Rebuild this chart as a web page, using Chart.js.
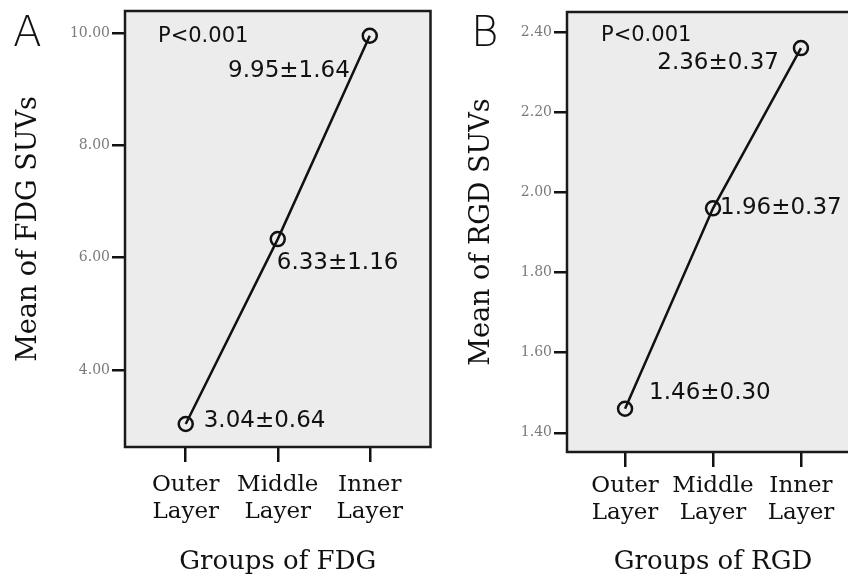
<!DOCTYPE html>
<html>
<head>
<meta charset="utf-8">
<script src="https://cdn.jsdelivr.net/npm/chart.js@4/dist/chart.umd.min.js"></script>
<style>
  html, body { margin: 0; padding: 0; background: #fff; overflow: hidden; }
  #wrap { position: relative; width: 848px; height: 582px; overflow: hidden; }
  .panel { position: absolute; top: 0; width: 440px; height: 582px; }
  .letter {
    position: absolute; font-family: 'DejaVu Sans', sans-serif; font-weight: 200;
    font-size: 42px; line-height: 42px; color: #111;
  }
</style>
</head>
<body>
<div id="wrap">
  <div class="panel" style="left:0"><canvas id="chartA" width="440" height="582"></canvas></div>
  <div class="panel" style="left:440px"><canvas id="chartB" width="440" height="582"></canvas></div>
  <div class="letter" style="left:13px;top:11px">A</div>
  <div class="letter" style="left:471px;top:11px">B</div>
</div>
<script>
const categories = [['Outer', 'Layer'], ['Middle', 'Layer'], ['Inner', 'Layer']];
const fdgMeans = [3.04, 6.33, 9.95];
const fdgSds = [0.64, 1.16, 1.64];
const rgdMeans = [1.46, 1.96, 2.36];
const rgdSds = [0.30, 0.37, 0.37];
const fdgTicks = [4, 6, 8, 10];
const rgdTicks = [1.4, 1.6, 1.8, 2.0, 2.2, 2.4];
const pText = 'P<0.001';

const serif = "'DejaVu Serif', serif";
const sans = "'DejaVu Sans', sans-serif";

const panelPlugin = {
  id: 'panel',
  beforeDraw: (chart) => {
    const { ctx, chartArea: a } = chart;
    ctx.save();
    ctx.fillStyle = '#ececec';
    ctx.fillRect(a.left, a.top, a.right - a.left, a.bottom - a.top);
    ctx.restore();
  },
  afterDraw: (chart, args, opts) => {
    const { ctx, chartArea: a } = chart;
    ctx.save();
    ctx.strokeStyle = '#1a1a1a';
    ctx.lineWidth = 2.5;
    ctx.strokeRect(a.left, a.top, a.right - a.left, a.bottom - a.top);

    ctx.fillStyle = '#111';
    ctx.textBaseline = 'alphabetic';
    ctx.font = `21px ${sans}`;
    ctx.textAlign = 'left';
    ctx.fillText(pText, a.left + opts.pPos[0], a.top + opts.pPos[1]);

    ctx.font = `23px ${sans}`;
    const meta = chart.getDatasetMeta(0);
    meta.data.forEach((pt, i) => {
      const [dx, dy, align] = opts.offsets[i];
      const text = `${opts.means[i].toFixed(2)}±${opts.sds[i].toFixed(2)}`;
      ctx.textAlign = align;
      ctx.fillText(text, pt.x + dx, pt.y + dy);
    });
    ctx.restore();
  },
};

const createChart = (id, cfg) => {
  return new Chart(document.getElementById(id), {
    type: 'line',
    data: {
      datasets: [{
        data: cfg.means.map((y, i) => ({ x: i, y })),
        borderColor: '#111',
        borderWidth: 2.5,
        pointRadius: 7,
        pointBorderWidth: 2.5,
        pointBackgroundColor: 'rgba(0,0,0,0)',
        pointBorderColor: '#111',
        tension: 0,
      }],
    },
    plugins: [panelPlugin],
    options: {
      responsive: false,
      animation: false,
      events: [],
      layout: { padding: { left: 0, top: cfg.top, right: cfg.right, bottom: 0 } },
      plugins: {
        legend: { display: false },
        tooltip: { enabled: false },
        panel: { offsets: cfg.offsets, pPos: cfg.pPos, means: cfg.means, sds: cfg.sds },
      },
      scales: {
        x: {
          type: 'linear',
          min: -0.66,
          max: 2.66,
          afterBuildTicks: (scale) => {
            scale.ticks = categories.map((c, i) => ({ value: i }));
          },
          afterFit: (scale) => { scale.height = cfg.xHeight; },
          ticks: {
            callback: (v) => categories[v],
            color: '#111',
            font: { family: serif, size: 23, lineHeight: 1.17 },
            padding: cfg.xTickPad,
            maxRotation: 0,
            autoSkip: false,
          },
          grid: { drawOnChartArea: false, color: '#111', lineWidth: 2.5, tickLength: 15 },
          border: { display: false },
          title: {
            display: true,
            text: cfg.xTitle,
            color: '#111',
            font: { family: serif, size: 26 },
            padding: { top: 0, bottom: 4 },
          },
        },
        y: {
          min: cfg.yMin,
          max: cfg.yMax,
          afterBuildTicks: (scale) => {
            scale.ticks = cfg.ticks.map((value) => ({ value }));
          },
          afterFit: (scale) => { scale.width = cfg.yWidth; },
          ticks: {
            callback: (v) => v.toFixed(2),
            color: '#7a7a7a',
            font: { family: serif, size: 14 },
            padding: 2,
          },
          grid: { drawOnChartArea: false, color: '#111', lineWidth: 2.5, tickLength: 13 },
          border: { display: false },
          title: {
            display: true,
            text: cfg.yTitle,
            color: '#111',
            font: { family: serif, size: 27 },
            padding: { top: cfg.yTitlePad, bottom: 0 },
          },
        },
      },
    },
  });
};

createChart('chartA', {
  means: fdgMeans,
  sds: fdgSds,
  ticks: fdgTicks,
  yMin: 2.63,
  yMax: 10.39,
  yTitle: 'Mean of FDG SUVs',
  xTitle: 'Groups of FDG',
  top: 11,
  right: 9,
  yWidth: 125,
  xHeight: 135,
  xTickPad: 10,
  yTitlePad: 13,
  pPos: [33, 31],
  offsets: [[18, 3, 'left'], [-1, 30, 'left'], [-20, 41, 'right']],
});

createChart('chartB', {
  means: rgdMeans,
  sds: rgdSds,
  ticks: rgdTicks,
  yMin: 1.352,
  yMax: 2.45,
  yTitle: 'Mean of RGD SUVs',
  xTitle: 'Groups of RGD',
  top: 12,
  right: 21,
  yWidth: 127,
  xHeight: 130,
  xTickPad: 6,
  yTitlePad: 26,
  pPos: [34, 29],
  offsets: [[24, -10, 'left'], [7, 6, 'left'], [-22, 21, 'right']],
});
</script>
</body>
</html>
